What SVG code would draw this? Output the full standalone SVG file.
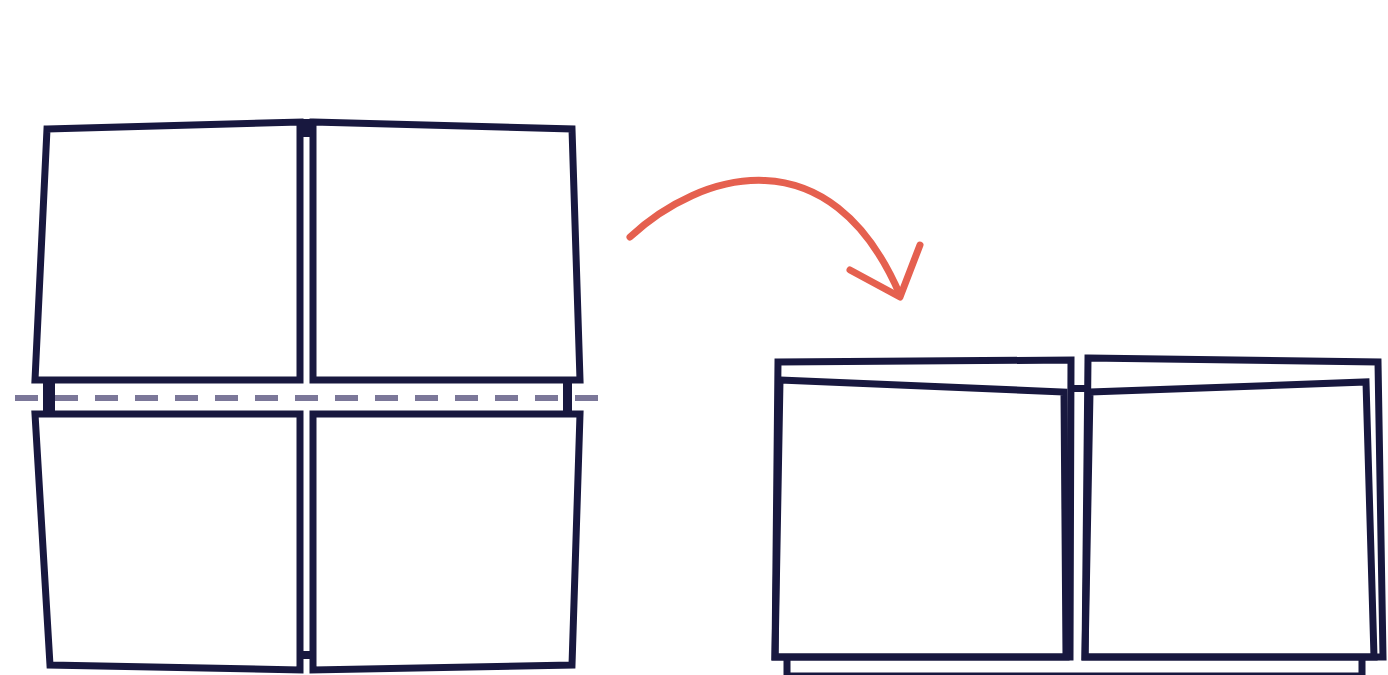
<svg xmlns="http://www.w3.org/2000/svg" width="1388" height="675" viewBox="0 0 1388 675">
<style>
.p{fill:none;stroke:#18183f;stroke-width:7;stroke-linejoin:miter}
.h{fill:#18183f}
.d{fill:none;stroke:#7b7799;stroke-width:6;stroke-dasharray:23 17}
.a{fill:none;stroke:#e5604f;stroke-width:7;stroke-linecap:round;stroke-linejoin:round}
</style>
<rect width="1388" height="675" fill="#ffffff"/>
<g id="left-unfolded">
<g id="panel-tl"><path class="p" d="M47,129 L300,122 L300,380 L35,380 Z"/></g>
<g id="panel-tr"><path class="p" d="M313,122 L572,129 L580,380 L313,380 Z"/></g>
<g id="panel-bl"><path class="p" d="M35,414 L300,414 L300,670 L50,665 Z"/></g>
<g id="panel-br"><path class="p" d="M313,414 L580,414 L572,665 L313,670 Z"/></g>
<g id="hinges-left">
<rect class="h" x="300" y="119" width="13" height="18"/>
<rect class="h" x="300" y="651" width="13" height="8"/>
<rect class="h" x="43" y="380" width="12" height="34"/>
<rect class="h" x="563" y="380" width="9" height="34"/>
</g>
</g>
<g id="fold-line"><line class="d" x1="15" y1="398" x2="603" y2="398"/></g>
<g id="connectors"><path class="a" d="M630,237 C700,172 830,132 900,295"/><polyline class="a" points="850,270 900,297 920,245"/></g>
<g id="right-folded">
<g id="back-left"><path class="p" d="M778,362 L1071,360 L1070,657 L775,657 Z"/></g>
<g id="front-left"><path class="p" d="M780,380 L1064,392 L1066,657 L775,657 Z"/></g>
<g id="back-right"><path class="p" d="M1088,358 L1378,362 L1383,657 L1085,657 Z"/></g>
<g id="front-right"><path class="p" d="M1090,392 L1366,382 L1374,657 L1085,657 Z"/></g>
<g id="bottom-strip"><path class="p" d="M787,657 L787,676 L1362,676 L1362,657"/></g>
<g id="hinge-right"><rect class="h" x="1070" y="385" width="18" height="7"/></g>
</g>
</svg>
